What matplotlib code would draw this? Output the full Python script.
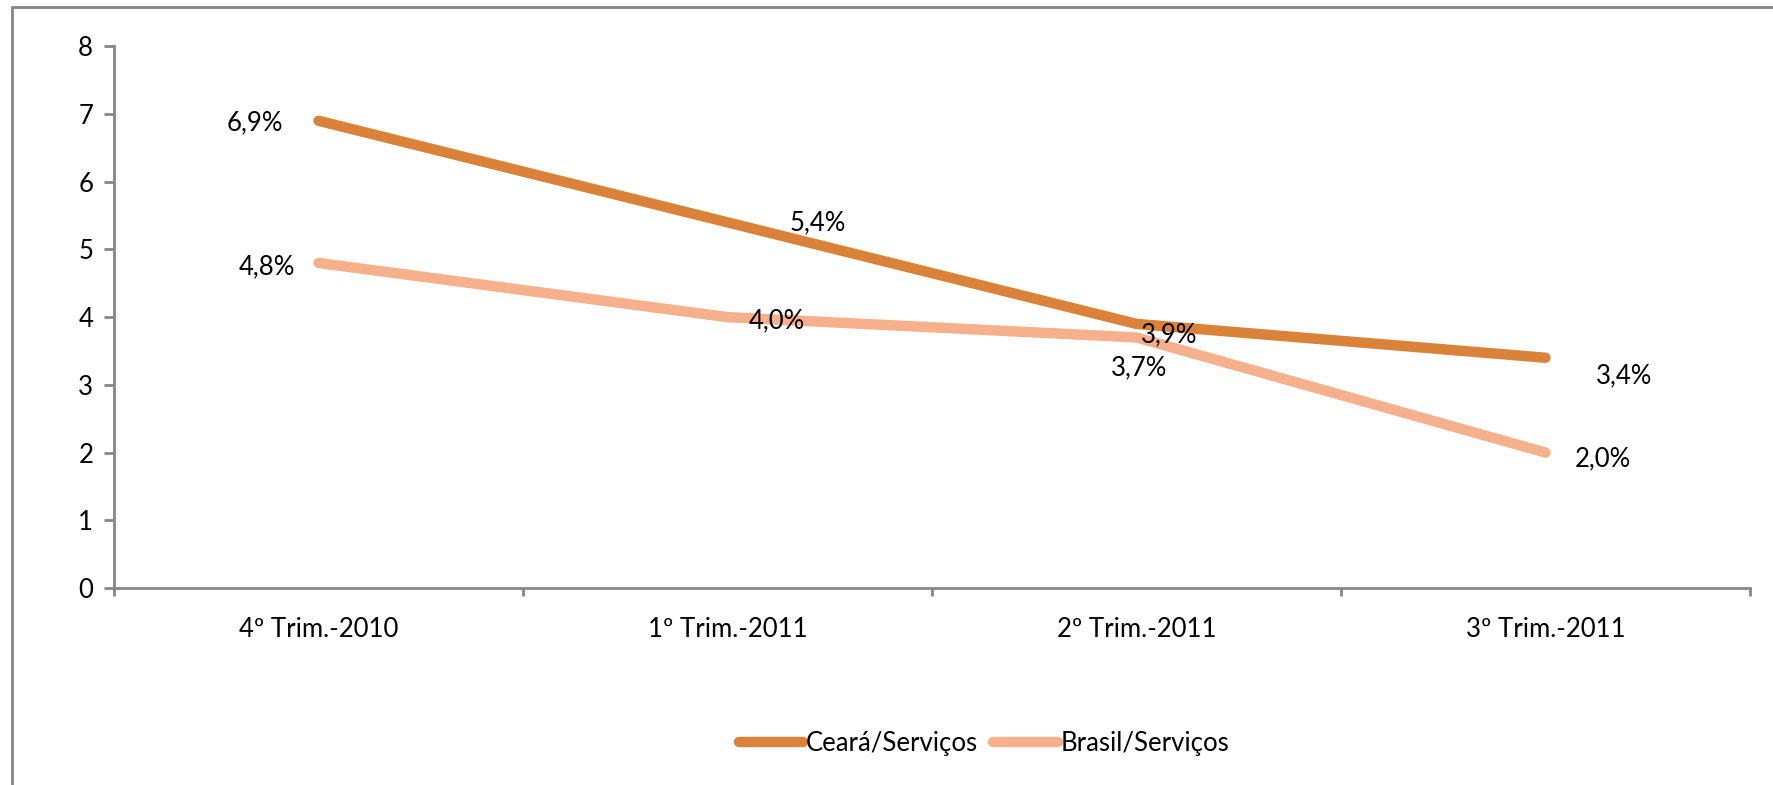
import matplotlib.pyplot as plt
from matplotlib.patches import Rectangle
import numpy as np

plt.rcParams['font.family'] = ['Lato', 'DejaVu Sans']

categorias = ['4º Trim.-2010', '1º Trim.-2011', '2º Trim.-2011', '3º Trim.-2011']
ceara = [6.9, 5.4, 3.9, 3.4]
brasil = [4.8, 4.0, 3.7, 2.0]
rotulos_ceara = ['6,9%', '5,4%', '3,9%', '3,4%']
rotulos_brasil = ['4,8%', '4,0%', '3,7%', '2,0%']

cor_ceara = '#DA813A'
cor_brasil = '#F6B08B'
cinza = '#868686'
fs = 18.5

fig = plt.figure(figsize=(17.73, 7.85), dpi=100)
ax = fig.add_axes([0.0643, 0.251, 0.9227, 0.690])

# moldura externa do grafico
fig.patches.append(Rectangle((0.007, -0.05), 1.05, 1.041, transform=fig.transFigure,
                             fill=False, edgecolor=cinza, linewidth=2))

x = np.arange(len(categorias))
ax.plot(x, ceara, color=cor_ceara, lw=7.5, solid_capstyle='round', label='Ceará/Serviços', zorder=3)
ax.plot(x, brasil, color=cor_brasil, lw=7.5, solid_capstyle='round', label='Brasil/Serviços', zorder=2)

# rotulos de dados (offsets em pixels)
off_ceara = [(-64, -2), (90, 0), (33, -11), (79, -18)]
off_brasil = [(-52, -4), (49, -4), (3, -30), (57, -6)]
for i in range(len(x)):
    ax.annotate(rotulos_ceara[i], (x[i], ceara[i]), xytext=off_ceara[i], textcoords='offset pixels',
                ha='center', va='center', fontsize=fs, zorder=5)
    ax.annotate(rotulos_brasil[i], (x[i], brasil[i]), xytext=off_brasil[i], textcoords='offset pixels',
                ha='center', va='center', fontsize=fs, zorder=5)

ax.set_xlim(-0.5, 3.5)
ax.set_ylim(0, 8)
ax.set_yticks(range(0, 9))
ax.set_xticks(x)
ax.set_xticklabels(categorias)
ax.set_xticks(np.arange(-0.5, 4, 1), minor=True)
ax.tick_params(axis='x', which='major', length=0, pad=21, labelsize=fs)
ax.tick_params(axis='x', which='minor', length=6, width=2, color=cinza)
ax.tick_params(axis='y', length=7, width=2, color=cinza, pad=8, labelsize=fs)

for s in ['top', 'right']:
    ax.spines[s].set_visible(False)
for s in ['left', 'bottom']:
    ax.spines[s].set_color(cinza)
    ax.spines[s].set_linewidth(2)

fig.legend(loc='center', bbox_to_anchor=(0.555, 0.0535), ncol=2, frameon=False, fontsize=fs,
           handlelength=2.5, handletextpad=0.1, columnspacing=0.6)

fig.savefig('out.png', dpi=100)
